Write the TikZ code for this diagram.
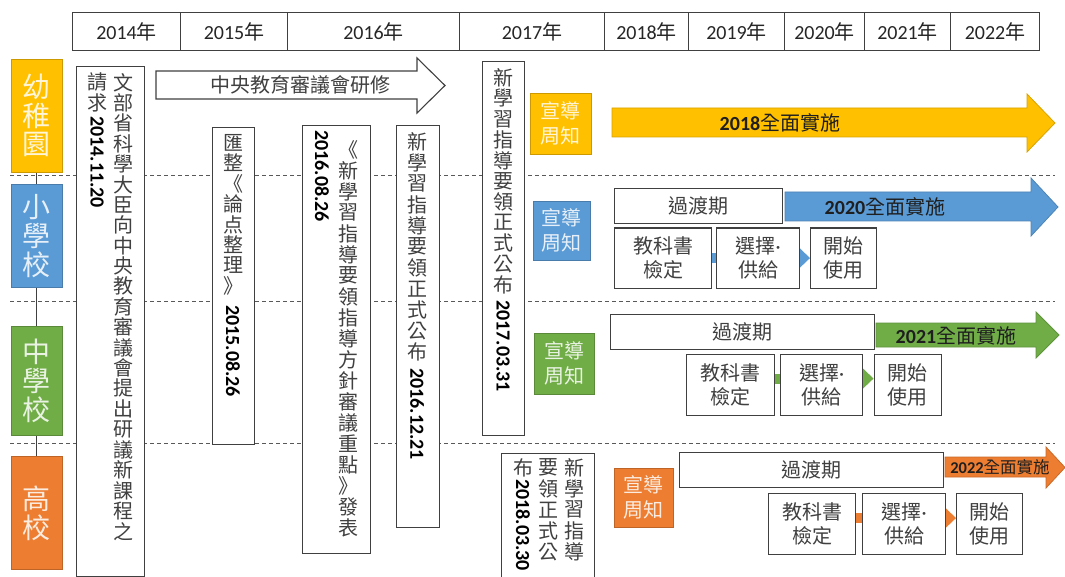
\documentclass[tikz,border=0pt]{standalone}
\usepackage{fontspec}
\setmainfont{Noto Sans CJK TC}
\newfontfamily\lat{Carlito}
\usetikzlibrary{arrows.meta,backgrounds}

\definecolor{cy}{HTML}{FFC000}
\definecolor{cb}{HTML}{5B9BD5}
\definecolor{cg}{HTML}{70AD47}
\definecolor{co}{HTML}{ED7D31}
\definecolor{ink}{HTML}{404040}
\definecolor{frame}{HTML}{404040}

\newdimen\vcpitch
\newcommand\vcell[1]{\hbox to 1em{\hss\vbox to \vcpitch{\vss\hbox{#1}\vss}\hss}}
\newcommand\vcol[2][20.7pt]{\vcpitch=#1\relax\vbox{\offinterlineskip\vcolA#2\relax}}
\def\vcolA#1{\ifx\relax#1\else\vcell{#1}\expandafter\vcolA\fi}

\tikzset{
  yearcell/.style={draw=frame, line width=1.1pt, minimum height=38pt, inner sep=0pt,
    anchor=north west, font=\fontsize{20}{24}\selectfont, text=black!85},
  catbox/.style={fill=#1, draw=#1!80!black, line width=0.8pt, minimum width=51pt,
    inner sep=0pt, anchor=north west, text=#1!15!white, font=\fontsize{28}{29}\selectfont},
  notice/.style={fill=#1, draw=#1!80!black, line width=0.8pt, inner sep=0pt,
    anchor=north west, align=center, text=#1!15!white, font=\fontsize{20}{25}\selectfont},
  vframe/.style={draw=frame, line width=1.1pt, fill=white, inner sep=0pt, anchor=north west},
  vtxt/.style={inner sep=0pt, anchor=north, text=ink, font=\fontsize{20}{24}\selectfont},
  vdig/.style={inner sep=0pt, anchor=west, rotate=-90, text=black,
    font=\fontsize{20}{24}\selectfont\lat\bfseries},
  stagebox/.style={draw=frame, line width=1.1pt, fill=white, inner sep=0pt,
    anchor=north west, align=center, text=ink, font=\fontsize{20}{24}\selectfont},
  bigarrow/.style={fill=#1, draw=#1!85!black, line width=0.8pt},
  arrowtext/.style={inner sep=0pt, text=black!88, font=\fontsize{20}{24}\selectfont},
  conn/.style={draw=#1, line width=10pt, -{Triangle[length=11pt, width=21pt, line width=0pt]}},
  divline/.style={draw=black!65, line width=1pt, dash pattern=on 4pt off 3pt},
}

\begin{document}
\begin{tikzpicture}[x=1pt, y=-1pt]
\useasboundingbox (0,0) rectangle (1065,577);

% year header
\node[yearcell, minimum width=108pt] (y14) at (72,12) {{\lat 2014}年};
\node[yearcell, minimum width=107pt] (y15) at (180,12) {{\lat 2015}年};
\node[yearcell, minimum width=172pt] (y16) at (287,12) {{\lat 2016}年};
\node[yearcell, minimum width=145pt] (y17) at (459,12) {{\lat 2017}年};
\node[yearcell, minimum width=84pt] (y18) at (604,12) {{\lat 2018}年};
\node[yearcell, minimum width=96pt] (y19) at (688,12) {{\lat 2019}年};
\node[yearcell, minimum width=80pt] (y20) at (784,12) {{\lat 2020}年};
\node[yearcell, minimum width=86pt] (y21) at (864,12) {{\lat 2021}年};
\node[yearcell, minimum width=89pt] (y22) at (950,12) {{\lat 2022}年};

% school categories
\node[catbox=cy, minimum height=113pt] (kg) at (11,59) {\vcol[29pt]{幼稚園}};
\node[catbox=cb, minimum height=103pt] (ps) at (11,184) {\vcol[29pt]{小學校}};
\node[catbox=cg, minimum height=109pt] (ms) at (11,326) {\vcol[29pt]{中學校}};
\node[catbox=co, minimum height=113pt] (hs) at (11,456) {\vcol[29pt]{高校}};

% vertical milestone boxes
\node[vframe, minimum width=68pt, minimum height=510pt] (b1) at (76,66) {};
\node[vtxt] (b1r) at (123,72) {\vcol[20.4pt]{文部省科學大臣向中央教育審議會提出研議新課程之}};
\node[vtxt] (b1l) at (97,72) {\vcol[20.4pt]{請求}};
\node[vdig] (b1d) at (97,116) {2014.11.20};

\node[vframe, minimum width=42pt, minimum height=317pt] (b2) at (212,127) {};
\node[vtxt] (b2t) at (233,132) {\vcol[20.5pt]{匯整《論点整理》}};
\node[vdig] (b2d) at (233,305) {2015.08.26};

\node[vframe, minimum width=68pt, minimum height=428pt] (b3) at (302,125) {};
\node[vtxt] (b3r) at (348,139) {\vcol[21pt]{《新學習指導要領指導方針審議重點》發表}};
\node[vdig] (b3d) at (322,130) {2016.08.26};

\node[vframe, minimum width=43pt, minimum height=402pt] (b4) at (396,125) {};
\node[vtxt] (b4t) at (417,131) {\vcol[21pt]{新學習指導要領正式公布}};
\node[vdig] (b4d) at (417,368) {2016.12.21};

\node[vframe, minimum width=42pt, minimum height=374pt] (b5) at (482,61) {};
\node[vtxt] (b5t) at (503,67) {\vcol{新學習指導要領正式公布}};
\node[vdig] (b5d) at (503,300) {2017.03.31};

\node[vframe, minimum width=93pt, minimum height=140pt] (b6) at (501,453) {};
\node[vtxt] (b6a) at (574,457) {\vcol[21pt]{新學習指導}};
\node[vtxt] (b6b) at (548,457) {\vcol[21pt]{要領正式公}};
\node[vtxt] (b6c) at (523,457) {\vcol[21pt]{布}};
\node[vdig] (b6d) at (523,479) {2018.03.30};

% central council arrow
\draw[draw=frame, line width=1.1pt, fill=white] (156,71) -- (417,71) -- (417,58) -- (445,85.5)
  -- (417,113) -- (417,99) -- (156,99) -- cycle;
\node[vtxt, anchor=center] (cc) at (300,85) {中央教育審議會研修};

% notice boxes
\node[notice=cy, minimum width=61pt, minimum height=61pt] (xk) at (530,93) {宣導\\周知};
\node[notice=cb, minimum width=57pt, minimum height=59pt] (xp) at (533,201) {宣導\\周知};
\node[notice=cg, minimum width=60pt, minimum height=61pt] (xm) at (534,333) {宣導\\周知};
\node[notice=co, minimum width=59pt, minimum height=59pt] (xh) at (614,468) {宣導\\周知};

% implementation arrows
\draw[bigarrow=cy] (612,108) -- (1027,108) -- (1027,94) -- (1055,123) -- (1027,152) -- (1027,137) -- (612,137) -- cycle;
\node[arrowtext] (a18) at (780,123) {{\lat\bfseries 2018}全面實施};
\draw[bigarrow=cb] (785,192) -- (1031,192) -- (1031,178) -- (1058,207) -- (1031,236) -- (1031,221) -- (785,221) -- cycle;
\node[arrowtext] (a20) at (885,207) {{\lat\bfseries 2020}全面實施};
\draw[bigarrow=cg] (876,323) -- (1036,323) -- (1036,312) -- (1059,335) -- (1036,358) -- (1036,347) -- (876,347) -- cycle;
\node[arrowtext] (a21) at (956,336) {{\lat\bfseries 2021}全面實施};
\draw[bigarrow=co] (945,457) -- (1046,457) -- (1046,447) -- (1065,467.5) -- (1046,488) -- (1046,477) -- (945,477) -- cycle;
\node[arrowtext, font=\fontsize{16.5}{20}\selectfont] (a22) at (1000,467) {{\lat\bfseries 2022}全面實施};

% transition boxes
\node[stagebox, minimum width=168pt, minimum height=35pt] (tp) at (614,188) {過渡期};
\node[stagebox, minimum width=263.5pt, minimum height=35pt] (tm) at (610,314) {過渡期};
\node[stagebox, minimum width=264pt, minimum height=35pt] (th) at (678.5,452) {過渡期};

% stage boxes
\node[stagebox, minimum width=97pt, minimum height=60pt] (k1) at (614,227.5) {教科書\\檢定};
\node[stagebox, minimum width=83pt, minimum height=60pt] (s1) at (716,227.5) {選擇{\lat ·}\\供給};
\node[stagebox, minimum width=66pt, minimum height=60pt] (u1) at (810,227.5) {開始\\使用};
\node[stagebox, minimum width=88pt, minimum height=61pt] (k2) at (686,354) {教科書\\檢定};
\node[stagebox, minimum width=82pt, minimum height=61pt] (s2) at (780,354) {選擇{\lat ·}\\供給};
\node[stagebox, minimum width=67.5pt, minimum height=61pt] (u2) at (873.5,354) {開始\\使用};
\node[stagebox, minimum width=87pt, minimum height=61pt] (k3) at (768,492.5) {教科書\\檢定};
\node[stagebox, minimum width=83pt, minimum height=61pt] (s3) at (862,492.5) {選擇{\lat ·}\\供給};
\node[stagebox, minimum width=66pt, minimum height=61pt] (u3) at (956,492.5) {開始\\使用};

\begin{pgfonlayer}{background}
  \fill[white] (0,0) rectangle (1065,577);
  \draw[divline] (10,176) -- (1055,176);
  \draw[divline] (10,301.5) -- (1055,301.5);
  \draw[divline] (10,443.5) -- (1055,443.5);
  \draw[frame, line width=1pt] (kg.south) -- (hs.north);
  \draw[conn=cb] (k1.east) -- (u1.west);
  \draw[conn=cg] ([yshift=6.5pt]k2.east) -- ([yshift=6.5pt]u2.west);
  \draw[conn=co] ([yshift=5.5pt]k3.east) -- ([yshift=5.5pt]u3.west);
\end{pgfonlayer}
\end{tikzpicture}
\end{document}
